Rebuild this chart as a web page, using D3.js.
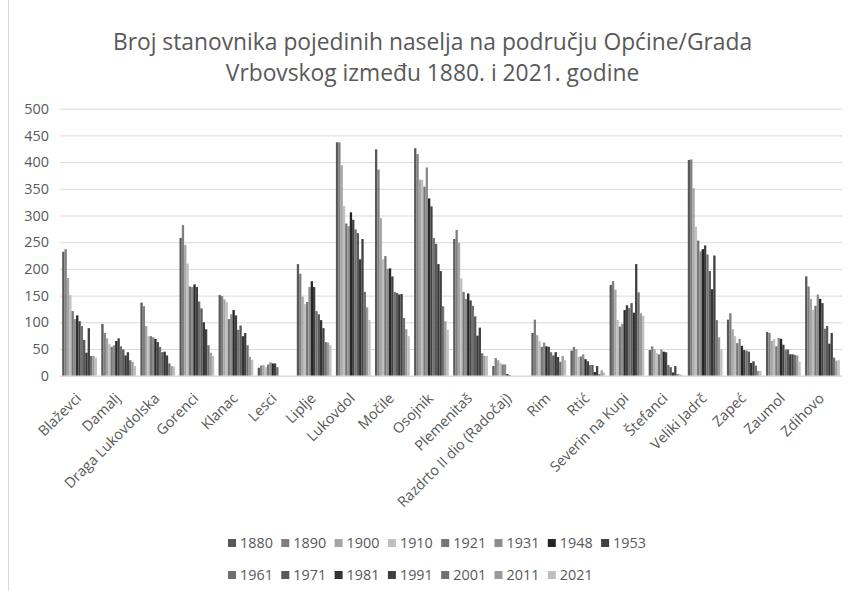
<!DOCTYPE html>
<html>
<head>
<meta charset="utf-8">
<script src="https://cdn.jsdelivr.net/npm/d3@7"></script>
<style>
  html, body { margin: 0; padding: 0; background: #fff; }
  svg { display: block; font-family: "Open Sans", "Noto Sans", sans-serif; }
</style>
</head>
<body>
<svg id="chart" width="853" height="591"></svg>
<script>
// Settlements (categories) and census years (series)
const settlements = ["Blaževci", "Damalj", "Draga Lukovdolska", "Gorenci", "Klanac", "Lesci", "Liplje",
  "Lukovdol", "Močile", "Osojnik", "Plemenitaš", "Razdrto II dio (Radočaj)", "Rim", "Rtić",
  "Severin na Kupi", "Štefanci", "Veliki Jadrč", "Zapeć", "Zaumol", "Zdihovo"];

const years = ["1880", "1890", "1900", "1910", "1921", "1931", "1948", "1953",
  "1961", "1971", "1981", "1991", "2001", "2011", "2021"];

// Population per settlement, one value per census year (same order as `years`)
const blazevci   = [232, 237, 183, 151, 121, 106, 113, 102, 93, 67, 43, 89, 37, 37, 34];
const damalj     = [97, 80, 70, 59, 54, 57, 65, 70, 55, 49, 38, 44, 29, 26, 18];
const draga      = [137, 130, 93, 74, 74, 72, 69, 63, 54, 44, 45, 38, 23, 18, 17];
const gorenci    = [258, 282, 245, 210, 167, 166, 171, 166, 139, 126, 100, 87, 57, 43, 37];
const klanac     = [151, 149, 143, 138, 106, 115, 123, 113, 86, 94, 74, 80, 57, 35, 30];
const lesci      = [15, 19, 20, 16, 21, 25, 23, 23, 16, 0, 0, 0, 0, 0, 0];
const liplje     = [209, 191, 148, 134, 138, 166, 177, 166, 121, 115, 104, 89, 63, 62, 57];
const lukovdol   = [437, 437, 394, 318, 285, 280, 306, 292, 274, 267, 218, 256, 157, 128, 104];
const mocile     = [424, 386, 295, 218, 224, 200, 201, 186, 157, 155, 152, 153, 108, 87, 74];
const osojnik    = [426, 415, 367, 367, 354, 390, 332, 317, 258, 247, 209, 196, 130, 102, 86];
const plemenitas = [256, 273, 249, 182, 157, 144, 154, 141, 131, 111, 75, 90, 42, 37, 37];
const razdrto    = [18, 33, 29, 24, 21, 21, 3, 1, 0, 0, 0, 0, 0, 0, 0];
const rim        = [80, 105, 76, 65, 54, 62, 55, 54, 44, 38, 44, 35, 26, 37, 29];
const rtic       = [47, 54, 50, 35, 36, 40, 31, 27, 20, 20, 7, 18, 3, 10, 6];
const severin    = [170, 177, 161, 104, 92, 97, 123, 132, 127, 136, 118, 209, 156, 117, 112];
const stefanci   = [48, 55, 50, 42, 40, 49, 45, 44, 20, 16, 6, 18, 3, 2, 1];
const veliki     = [404, 405, 351, 279, 253, 233, 237, 244, 227, 196, 162, 225, 104, 72, 49];
const zapec      = [105, 117, 87, 74, 61, 69, 56, 48, 47, 45, 24, 27, 19, 9, 9];
const zaumol     = [82, 80, 65, 69, 55, 71, 69, 58, 49, 49, 40, 40, 39, 38, 26];
const zdihovo    = [186, 167, 144, 123, 131, 152, 144, 136, 88, 93, 60, 80, 34, 28, 29];

const yTicks = [0, 50, 100, 150, 200, 250, 300, 350, 400, 450, 500];

// Grey shades for the census years
const yearColors = ["#595959", "#7f7f7f", "#a5a5a5", "#bfbfbf", "#767676", "#8c8c8c", "#262626", "#404040",
  "#6f6f6f", "#595959", "#333333", "#404040", "#6f6f6f", "#999999", "#bfbfbf"];

const rows = [blazevci, damalj, draga, gorenci, klanac, lesci, liplje, lukovdol, mocile, osojnik,
  plemenitas, razdrto, rim, rtic, severin, stefanci, veliki, zapec, zaumol, zdihovo];
const table = settlements.map((name, i) => ({ name, values: rows[i] }));

const svg = d3.select("#chart");
const textColor = "#595959";
const gridColor = "#d9d9d9";
const labelSize = "14.4px";

// outer frame line on the left
svg.append("line").attr("x1", 8.5).attr("x2", 8.5).attr("y1", 0).attr("y2", 591)
  .attr("stroke", gridColor).attr("stroke-width", 1);

// Title
const title = svg.append("text").attr("text-anchor", "middle").attr("fill", textColor)
  .style("font-size", "22.8px");
title.append("tspan").attr("x", 432.5).attr("y", 50).text("Broj stanovnika pojedinih naselja na području Općine/Grada");
title.append("tspan").attr("x", 432.5).attr("y", 81).text("Vrbovskog između 1880. i 2021. godine");

const plot = { left: 60, right: 842, top: 108.7, bottom: 375.7 };

const x0 = d3.scaleBand().domain(settlements).range([plot.left, plot.right])
  .paddingInner(0.112).paddingOuter(0.056);
const x1 = d3.scaleBand().domain(years).range([0, x0.bandwidth()]).padding(0);
const y = d3.scaleLinear().domain([0, 500]).range([plot.bottom, plot.top]);
const color = d3.scaleOrdinal().domain(years).range(yearColors);

// Gridlines and y labels
const yAxis = d3.axisLeft(y).tickValues(yTicks).tickSize(-(plot.right - plot.left)).tickPadding(11);
const gy = svg.append("g").attr("transform", `translate(${plot.left},0)`).call(yAxis);
gy.select(".domain").remove();
gy.selectAll(".tick line").attr("stroke", gridColor).attr("stroke-width", 1);
gy.selectAll(".tick text").attr("fill", textColor).style("font-size", labelSize)
  .style("font-family", "'Open Sans', sans-serif");

// Bars
const groups = svg.append("g").selectAll("g").data(table).join("g")
  .attr("transform", d => `translate(${x0(d.name)},0)`);
groups.selectAll("rect")
  .data(d => d.values.map((v, i) => ({ year: years[i], value: v })))
  .join("rect")
  .attr("x", d => x1(d.year))
  .attr("width", x1.bandwidth())
  .attr("y", d => y(d.value))
  .attr("height", d => y(0) - y(d.value))
  .attr("fill", d => color(d.year));

// Category axis with slanted labels
const xAxis = d3.axisBottom(x0).tickSize(0).tickPadding(0);
const gx = svg.append("g").attr("transform", `translate(0,${plot.bottom})`).call(xAxis);
gx.select(".domain").attr("stroke", gridColor).attr("d", `M${plot.left},0.5H${plot.right}`);
gx.selectAll(".tick text")
  .attr("fill", textColor).style("font-size", labelSize)
  .style("font-family", "'Open Sans', sans-serif")
  .attr("text-anchor", "end")
  .attr("dy", "0.35em")
  .attr("transform", "translate(-1,20) rotate(-45)");

// Legend: two rows, left-aligned columns
const legend = svg.append("g");
const item = legend.selectAll("g").data(years).join("g")
  .attr("transform", (d, i) => `translate(${228 + (i % 8) * 53.3},${i < 8 ? 543 : 575})`);
item.append("rect").attr("x", 0).attr("y", -4).attr("width", 8).attr("height", 8)
  .attr("fill", d => color(d));
item.append("text").attr("x", 12).attr("y", 0).attr("dy", "0.35em")
  .attr("fill", textColor).style("font-size", labelSize).text(d => d);
</script>
</body>
</html>
